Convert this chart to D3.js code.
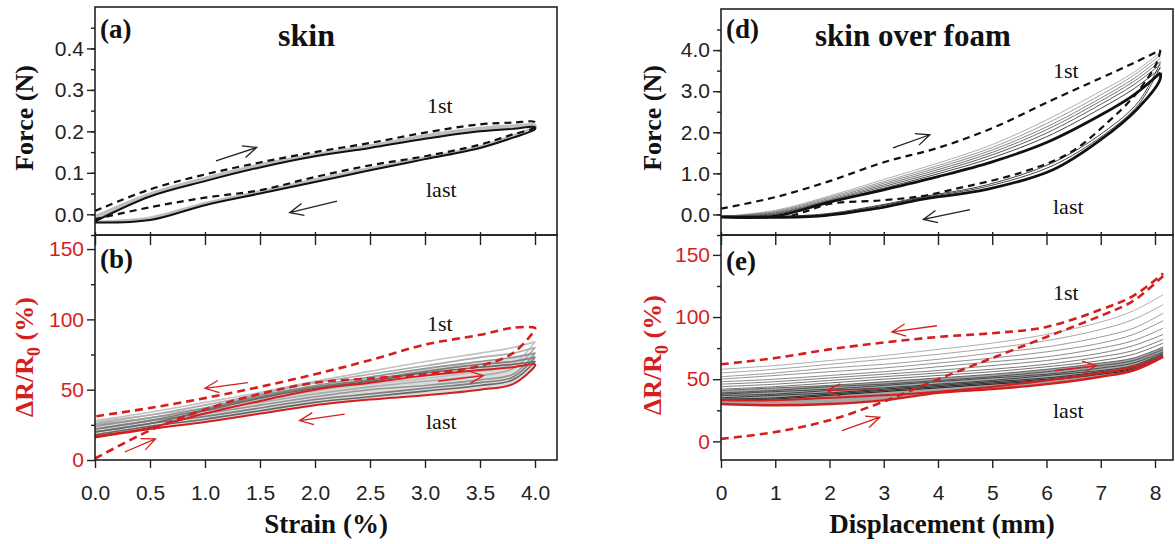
<!DOCTYPE html>
<html><head><meta charset="utf-8">
<script src="https://cdnjs.cloudflare.com/ajax/libs/d3/7.8.5/d3.min.js"></script>
<style>body{margin:0;background:#fff} svg{display:block}</style>
</head><body><svg></svg>
<script>
// ---- data ----
// (a) force vs strain, skin
const strainGrid = [0, 0.5, 1, 1.5, 2, 2.5, 3, 3.5, 3.8, 4.0];
const aFirstLoad   = [0.008, 0.06, 0.096, 0.125, 0.15, 0.172, 0.197, 0.217, 0.221, 0.222];
const aFirstUnload = [-0.012, 0.017, 0.04, 0.058, 0.09, 0.118, 0.14, 0.168, 0.193, 0.21];
const aLastLoad    = [-0.017, 0.043, 0.08, 0.113, 0.14, 0.16, 0.182, 0.2, 0.206, 0.21];
const aLastUnload  = [-0.02, -0.014, 0.022, 0.05, 0.078, 0.106, 0.133, 0.16, 0.185, 0.205];
const aGrayLoad    = [[-0.005, 0.05, 0.088, 0.12, 0.145, 0.166, 0.19, 0.208, 0.214, 0.216],
                      [-0.012, 0.046, 0.084, 0.116, 0.142, 0.163, 0.186, 0.204, 0.21, 0.213]];
const aGrayUnload  = [[-0.018, -0.008, 0.027, 0.055, 0.084, 0.111, 0.137, 0.164, 0.19, 0.212],
                      [-0.019, -0.011, 0.025, 0.053, 0.081, 0.109, 0.135, 0.162, 0.187, 0.208]];

// (b) dR/R0 vs strain, skin
const bFirstLoad   = [1, 21, 36, 47, 55, 58, 61, 67, 76, 93];
const bFirstUnload = [31, 37, 44, 52, 61, 71, 82, 89, 94, 94];
const bLastLoad    = [17, 23, 33, 42, 50, 55, 60, 64, 66, 68];
const bLastUnload  = [16, 22, 27, 33, 39, 43, 46, 50, 54, 67];
const bGrayLoad = [
  [28, 34, 41, 48, 56, 63, 70, 76, 80, 84],
  [26, 32, 39, 47, 55, 61, 67, 73, 76, 80],
  [24, 30, 37, 46, 53, 59, 65, 70, 73, 76],
  [22, 28, 36, 45, 52, 57, 63, 68, 70, 73],
  [20, 26, 35, 44, 51, 56, 62, 66, 68, 70]];
const bGrayUnload = [
  [27, 32, 37, 43, 49, 54, 58, 63, 68, 84],
  [25, 30, 35, 41, 47, 52, 56, 60, 65, 80],
  [22, 28, 33, 39, 45, 50, 53, 57, 61, 76],
  [20, 26, 31, 37, 43, 47, 51, 55, 59, 73],
  [18, 24, 29, 35, 41, 45, 49, 53, 57, 70]];

// (d) force vs displacement, skin over foam
const dispGrid = [0, 1, 2, 3, 4, 5, 6, 7, 7.6, 8.1];
const dFirstLoad = [0.14, 0.42, 0.81, 1.27, 1.62, 2.1, 2.72, 3.32, 3.68, 4.0];
const dFirstUnload = [[8.1,4.0],[8.03,3.68],[7.66,2.95],[7.11,2.22],[6.43,1.5],[5.51,1.01],[4.28,0.61],
                      [3.67,0.44],[2.93,0.34],[2.01,0.26],[1.58,0.08],[1.3,-0.03]];
const dLastLoad = [-0.06, -0.04, 0.3, 0.6, 0.92, 1.28, 1.75, 2.42, 2.9, 3.45];
const dLastUnload = [[8.1,3.45],[8.09,3.27],[7.66,2.55],[7.0,1.82],[6.12,1.09],[4.9,0.61],[3.67,0.36],
                     [2.93,0.16],[1.8,-0.04],[0,-0.06]];
const dGrayLoad = [
  [-0.05, 0.10, 0.45, 0.85, 1.25, 1.70, 2.30, 3.00, 3.45, 3.95],
  [-0.05, 0.08, 0.42, 0.80, 1.19, 1.63, 2.21, 2.91, 3.38, 3.88],
  [-0.05, 0.06, 0.39, 0.76, 1.14, 1.57, 2.13, 2.83, 3.30, 3.80],
  [-0.05, 0.04, 0.36, 0.72, 1.09, 1.51, 2.06, 2.76, 3.23, 3.72],
  [-0.05, 0.02, 0.34, 0.68, 1.04, 1.45, 1.98, 2.68, 3.15, 3.65],
  [-0.05, 0.00, 0.32, 0.64, 0.99, 1.38, 1.89, 2.58, 3.05, 3.55]];
const dGrayUnload = [
  [[8.1,3.7],[7.7,2.75],[7.05,2.0],[6.1,1.25],[4.9,0.72],[3.67,0.42],[2.9,0.22],[1.8,0.0],[0,-0.05]],
  [[8.1,3.6],[7.7,2.68],[7.05,1.93],[6.1,1.18],[4.9,0.68],[3.67,0.4],[2.9,0.2],[1.8,-0.02],[0,-0.05]]];

// (e) dR/R0 vs displacement, skin over foam
const dispGridE = [0, 1, 2, 3, 4, 5, 6, 7, 7.6, 8.15];
const eFirstLoad   = [2, 7.5, 17, 32, 50, 67, 84, 101, 113, 133];
const eFirstUnload = [62, 67, 74, 79.5, 84, 87, 92, 106, 117, 135];
const eLastLoad    = [30, 29, 30, 33, 39, 42, 46, 52, 57, 68];
const eLastUnload  = [33, 33, 35, 37, 40, 44, 49, 55, 60, 68];
const eGray = [
  [58, 61, 65, 69, 74, 79, 86, 96, 105, 118],
  [55, 58, 62, 66, 70, 75, 81, 90, 98, 110],
  [52, 55, 59, 62, 66, 71, 76, 84, 91, 103],
  [50, 53, 56, 59, 63, 67, 72, 79, 86, 97],
  [48, 50, 53, 56, 60, 64, 68, 75, 81, 91],
  [46, 48, 51, 54, 57, 61, 65, 71, 77, 86],
  [44, 46, 49, 52, 55, 58, 62, 68, 73, 82],
  [42, 44, 47, 50, 53, 56, 60, 65, 70, 79],
  [41, 43, 45, 48, 51, 54, 58, 63, 67, 76],
  [39, 41, 44, 46, 49, 52, 56, 61, 65, 74],
  [38, 40, 42, 45, 48, 51, 54, 59, 63, 72],
  [37, 38, 41, 43, 46, 49, 53, 57, 61, 71],
  [35, 37, 39, 42, 45, 48, 51, 56, 60, 70],
  [34, 35, 38, 41, 44, 47, 50, 55, 59, 69],
  [33, 34, 37, 40, 43, 46, 49, 54, 58, 68]];

// arrows [x1, y1, x2, y2] in data units
const aArrows = [[1.1, 0.129, 1.47, 0.161], [2.2, 0.032, 1.77, 0.004]];
const bArrows = [[1.39, 55, 1.0, 51], [0.27, 5.7, 0.55, 15], [2.27, 32.6, 1.86, 28], [3.12, 56, 3.53, 60]];
const dArrows = [[3.17, 1.62, 3.85, 1.94], [4.59, 0.12, 3.73, -0.12]];
const eArrows = [[3.98, 93, 3.15, 88], [2.9, 42, 1.95, 41], [2.23, 8.6, 2.93, 19.4], [6.16, 57, 6.92, 61]];

const strainTicks = [0, 0.5, 1, 1.5, 2, 2.5, 3, 3.5, 4];
const dispTicks = [0, 1, 2, 3, 4, 5, 6, 7, 8];

// ---- setup ----
const W = 1175, H = 544;
const red = '#d41f1f';
const svg = d3.select('svg').attr('width', W).attr('height', H);

const xL = d3.scaleLinear().domain([0, 4.2]).range([95, 557]);
const xR = d3.scaleLinear().domain([0, 8.332]).range([721, 1173]);
const yA = d3.scaleLinear().domain([-0.05, 0.5]).range([235, 7]);
const yB = d3.scaleLinear().domain([0, 160]).range([460, 235]);
const yD = d3.scaleLinear().domain([-0.5, 5]).range([235, 9]);
const yE = d3.scaleLinear().domain([-15, 166]).range([460, 235]);

const pairs = (xs, ys) => ys.map((v, i) => [xs[i], v]);
const loop = (xs, load, unload) => pairs(xs, load).concat(pairs(xs, unload).reverse());

let clipN = 0;
function panel(x, y) {
  const id = 'clip' + (clipN++);
  const [x0, x1] = x.range(), [y1, y0] = y.range();
  svg.append('clipPath').attr('id', id).append('rect')
    .attr('x', x0).attr('y', y0).attr('width', x1 - x0).attr('height', y1 - y0);
  const g = svg.append('g').attr('clip-path', 'url(#' + id + ')');
  g.x = x; g.y = y;
  return g;
}
function curve(g, pts, stroke, width, dash) {
  const line = d3.line().x(d => g.x(d[0])).y(d => g.y(d[1])).curve(d3.curveCatmullRom.alpha(0.5));
  g.append('path').attr('d', line(pts)).attr('fill', 'none')
    .attr('stroke', stroke).attr('stroke-width', width)
    .attr('stroke-dasharray', dash || null).attr('stroke-linejoin', 'round');
}
function band(g, xs, lo, hi, fill, op) {
  const area = d3.area().x(d => g.x(d[0])).y0(d => g.y(d[1])).y1(d => g.y(d[2]))
    .curve(d3.curveCatmullRom.alpha(0.5));
  g.append('path').attr('d', area(xs.map((v, i) => [v, lo[i], hi[i]])))
    .attr('fill', fill).attr('opacity', op);
}
function arrows(g, list, color) {
  list.forEach(a => {
    const px1 = g.x(a[0]), py1 = g.y(a[1]), px2 = g.x(a[2]), py2 = g.y(a[3]);
    const ang = Math.atan2(py2 - py1, px2 - px1);
    const L = 15;
    const h1 = [px2 - L * Math.cos(ang - 0.42), py2 - L * Math.sin(ang - 0.42)];
    const h2 = [px2 - L * Math.cos(ang + 0.42), py2 - L * Math.sin(ang + 0.42)];
    svg.append('path')
      .attr('d', `M${px1},${py1}L${px2},${py2}M${h1}L${px2},${py2}L${h2}`)
      .attr('fill', 'none').attr('stroke', color).attr('stroke-width', 1.3);
  });
}

// ---- panel (a) ----
const gA = panel(xL, yA);
aGrayLoad.forEach((l, i) => curve(gA, loop(strainGrid, l, aGrayUnload[i]), '#bdbdbd', 2.4));
curve(gA, loop(strainGrid, aLastLoad, aLastUnload), '#111', 2);
curve(gA, loop(strainGrid, aFirstLoad, aFirstUnload), '#111', 2.2, '7,5');
arrows(gA, aArrows, '#222');

// ---- panel (b) ----
const gB = panel(xL, yB);
band(gB, strainGrid, bLastUnload, bGrayLoad[2], '#9a9a9a', 0.35);
bGrayLoad.forEach((l, i) => curve(gB, loop(strainGrid, l, bGrayUnload[i]), d3.interpolateGreys(0.35 + i * 0.08), 1.6));
curve(gB, loop(strainGrid, bLastLoad, bLastUnload), red, 2);
curve(gB, loop(strainGrid, bFirstLoad, bFirstUnload), red, 2.6, '8,5');
arrows(gB, bArrows, red);

// ---- panel (d) ----
const gD = panel(xR, yD);
dGrayLoad.forEach((l, i) => curve(gD, pairs(dispGrid, l), d3.interpolateGreys(0.45 + i * 0.08), 0.9));
dGrayUnload.forEach(u => curve(gD, u, '#444', 1));
curve(gD, pairs(dispGrid, dLastLoad), '#111', 2.8);
curve(gD, dLastUnload, '#111', 2.8);
curve(gD, pairs(dispGrid, dFirstLoad), '#111', 2.2, '7,5');
curve(gD, dFirstUnload, '#111', 2.2, '7,5');
arrows(gD, dArrows, '#222');

// ---- panel (e) ----
const gE = panel(xR, yE);
band(gE, dispGridE, eLastLoad, eGray[8], '#3a3a3a', 0.45);
eGray.forEach((l, i) => curve(gE, pairs(dispGridE, l), d3.interpolateGreys(0.45 + i * 0.035), 0.9));
curve(gE, pairs(dispGridE, eLastUnload), red, 2);
curve(gE, pairs(dispGridE, eLastLoad), red, 2.4);
curve(gE, pairs(dispGridE, eFirstUnload), red, 2.6, '8,5');
curve(gE, pairs(dispGridE, eFirstLoad), red, 2.6, '8,5');
arrows(gE, eArrows, red);

// ---- axes and frames ----
const tickFont = '"Liberation Sans", Arial, sans-serif';
const serif = '"Liberation Serif", "Times New Roman", serif';

function yAxis(y, x0, major, minor, fmt, color) {
  const gMinor = svg.append('g').attr('transform', `translate(${x0},0)`)
    .call(d3.axisLeft(y).tickValues(minor).tickSize(4).tickFormat(''));
  const gMajor = svg.append('g').attr('transform', `translate(${x0},0)`)
    .call(d3.axisLeft(y).tickValues(major).tickSize(8).tickPadding(3).tickFormat(fmt));
  [gMinor, gMajor].forEach(g => {
    g.select('.domain').remove();
    g.selectAll('line').attr('stroke', '#222').attr('stroke-width', 1.4);
  });
  gMajor.selectAll('text').attr('font-family', tickFont).attr('font-size', 21).attr('fill', color);
}
function xAxis(x, ticks, fmt) {
  const gBot = svg.append('g').attr('transform', 'translate(0,460)')
    .call(d3.axisBottom(x).tickValues(ticks).tickSize(8).tickFormat(fmt));
  const gMid = svg.append('g').attr('transform', 'translate(0,232)')
    .call(d3.axisBottom(x).tickValues(ticks).tickSize(13).tickFormat(''));
  [gBot, gMid].forEach(g => {
    g.select('.domain').remove();
    g.selectAll('line').attr('stroke', '#222').attr('stroke-width', 1.4);
  });
  gBot.selectAll('text').attr('font-family', tickFont).attr('font-size', 21).attr('fill', '#222')
    .attr('y', 40).attr('dy', 0);
}
function frame(x, y) {
  const [x0, x1] = x.range(), [y1, y0] = y.range();
  svg.append('rect').attr('x', x0).attr('y', y0).attr('width', x1 - x0).attr('height', y1 - y0)
    .attr('fill', 'none').attr('stroke', '#222').attr('stroke-width', 1.6);
}

yAxis(yA, 95, [0, 0.1, 0.2, 0.3, 0.4], d3.range(-0.05, 0.46, 0.05), d3.format('.1f'), '#222');
yAxis(yB, 95, [0, 50, 100, 150], [25, 75, 125], d3.format('d'), red);
yAxis(yD, 721, [0, 1, 2, 3, 4], d3.range(-0.5, 4.6, 0.5), d3.format('.1f'), '#222');
yAxis(yE, 721, [0, 50, 100, 150], [25, 75, 125], d3.format('d'), red);
xAxis(xL, strainTicks, d3.format('.1f'));
xAxis(xR, dispTicks, d3.format('d'));
frame(xL, yA); frame(xL, yB); frame(xR, yD); frame(xR, yE);

// ---- texts ----
function txt(x, y, s, size, opts) {
  opts = opts || {};
  return svg.append('text').attr('x', x).attr('y', y).text(s)
    .attr('font-family', serif).attr('font-size', size)
    .attr('font-weight', opts.bold ? 'bold' : 'normal')
    .attr('fill', opts.fill || '#111')
    .attr('text-anchor', opts.anchor || 'start');
}
txt(100, 38, '(a)', 27, {bold: true});
txt(100, 268, '(b)', 27, {bold: true});
txt(726, 38, '(d)', 27, {bold: true});
txt(726, 270, '(e)', 27, {bold: true});
txt(278, 46, 'skin', 32, {bold: true});
txt(815, 46, 'skin over foam', 31, {bold: true});
txt(427, 113, '1st', 22);
txt(426, 197, 'last', 22);
txt(427, 331, '1st', 22);
txt(426, 429, 'last', 22);
txt(1053, 78, '1st', 22);
txt(1053, 214, 'last', 22);
txt(1053, 300, '1st', 22);
txt(1053, 418, 'last', 22);
txt(326, 533, 'Strain (%)', 27, {bold: true, anchor: 'middle'});
txt(942, 533, 'Displacement (mm)', 27, {bold: true, anchor: 'middle'});

function yTitle(x, y, color, dr) {
  const t = svg.append('text').attr('transform', `translate(${x},${y}) rotate(-90)`)
    .attr('font-family', serif).attr('font-size', 26).attr('font-weight', 'bold')
    .attr('fill', color).attr('text-anchor', 'middle');
  if (!dr) { t.text('Force (N)'); return; }
  t.append('tspan').text('ΔR/R');
  t.append('tspan').text('0').attr('font-size', 18).attr('dy', 7);
  t.append('tspan').text(' (%)').attr('dy', -7);
}
yTitle(33, 118, '#111', false);
yTitle(33, 357, red, true);
yTitle(661, 118, '#111', false);
yTitle(661, 355, red, true);
</script></body></html>
